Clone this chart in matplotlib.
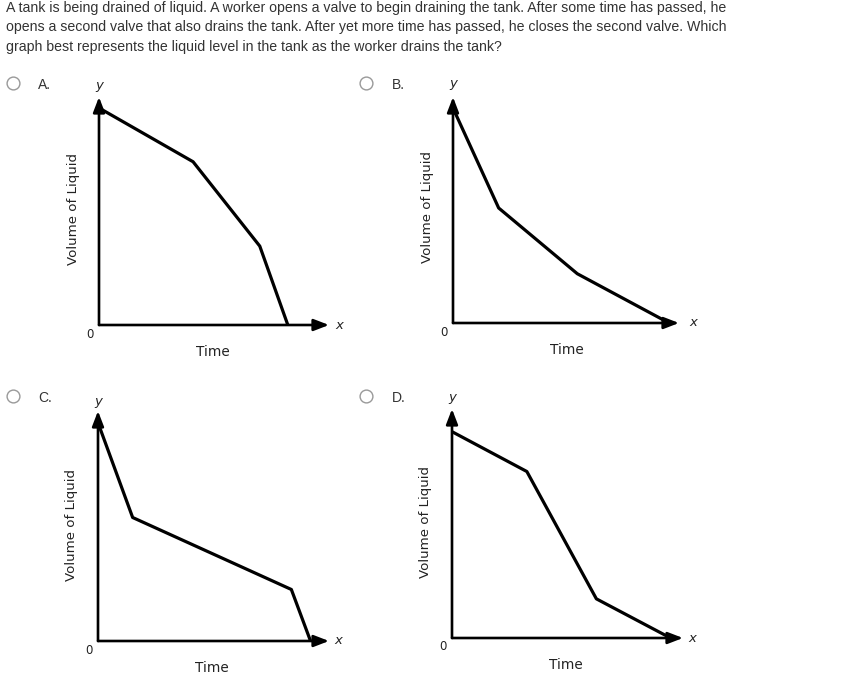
import numpy as np
import matplotlib.pyplot as plt

# liquid level graphs for the tank question (4 answer choices)

question = ['A tank is being drained of liquid. A worker opens a valve to begin draining the tank. After some time has passed, he',
            'opens a second valve that also drains the tank. After yet more time has passed, he closes the second valve. Which',
            'graph best represents the liquid level in the tank as the worker drains the tank?']

choices = ['A.', 'B.', 'C.', 'D.']

# time / volume break points, axes run 0..10 from origin to arrow tip
time_a = [0, 4.09, 6.99, 8.21]
vol_a = [9.52, 7.16, 3.46, 0]
time_b = [0, 2.02, 5.50, 9.56]
vol_b = [9.51, 5.09, 2.18, 0]
time_c = [0, 1.50, 8.37, 9.20]
vol_c = [9.49, 5.37, 2.24, 0]
time_d = [0, 3.24, 6.25, 9.46]
vol_d = [9.01, 7.27, 1.71, 0]

times = [time_a, time_b, time_c, time_d]
vols = [vol_a, vol_b, vol_c, vol_d]

W, H = 866, 676
fig = plt.figure(figsize=(W / 100, H / 100), dpi=100)

def fx(x):
    return x / W

def fy(y):
    return 1 - y / H

txt_col = '#333333'
for i, line in enumerate(question):
    fig.text(fx(6), fy(12 + i * 19.5), line, fontsize=10.2, color=txt_col,
             family='Liberation Sans', va='baseline', ha='left')

# origin pixel and arrow tip pixel of each panel
origins = [(99, 325), (453, 323), (98, 641), (452, 638)]
tips = [(329, 97), (679, 97), (329, 411), (683, 409)]
radios = [(12.5, 83.3), (366, 83.3), (12.5, 396), (366, 396)]

arrow = dict(arrowstyle='-|>,head_length=0.65,head_width=0.25', lw=1.9, color='black',
             mutation_scale=14, shrinkA=0, shrinkB=0)

for k in range(4):
    ox, oy = origins[k]
    tx, ty = tips[k]
    ax = fig.add_axes([fx(ox), fy(oy), fx(tx - ox), (oy - ty) / H])
    ax.set_xlim(0, 10)
    ax.set_ylim(0, 10)
    ax.axis('off')
    ax.plot(times[k], vols[k], color='black', lw=2.3, solid_capstyle='butt', clip_on=False, zorder=3)
    ax.annotate('', xy=(10, 0), xytext=(0, 0), annotation_clip=False, arrowprops=arrow)
    ax.annotate('', xy=(0, 10), xytext=(0, 0), annotation_clip=False, arrowprops=arrow)

    c = '#222222'
    fig.text(fx(ox), fy(oy - 240), 'y', style='italic', fontsize=9.5, color=c, ha='center', va='center')
    fig.text(fx(ox + 240), fy(oy), 'x', style='italic', fontsize=9.5, color=c, ha='center', va='center')
    fig.text(fx(ox - 9), fy(oy + 9), '0', fontsize=8.5, color=c, ha='center', va='center')
    fig.text(fx(ox + 114), fy(oy + 27), 'Time', fontsize=9.8, color=c, ha='center', va='center')
    fig.text(fx(ox - 26), fy(oy - 116), 'Volume of Liquid', fontsize=9.6, color=c, ha='center', va='center', rotation=90)

    rx, ry = radios[k]
    fig.text(fx(rx + 25.5), fy(ry + 5.8), choices[k], fontsize=10, color=txt_col,
             family='Liberation Sans', va='baseline', ha='left')

# radio buttons drawn as markers on a full-figure overlay
ov = fig.add_axes([0, 0, 1, 1])
ov.set_xlim(0, W)
ov.set_ylim(H, 0)
ov.axis('off')
rx_list = [r[0] for r in radios]
ry_list = [r[1] for r in radios]
ov.scatter(rx_list, ry_list, s=85, facecolor='white', edgecolor='#999999', linewidth=1.0)

fig.savefig('out.png', dpi=100)
